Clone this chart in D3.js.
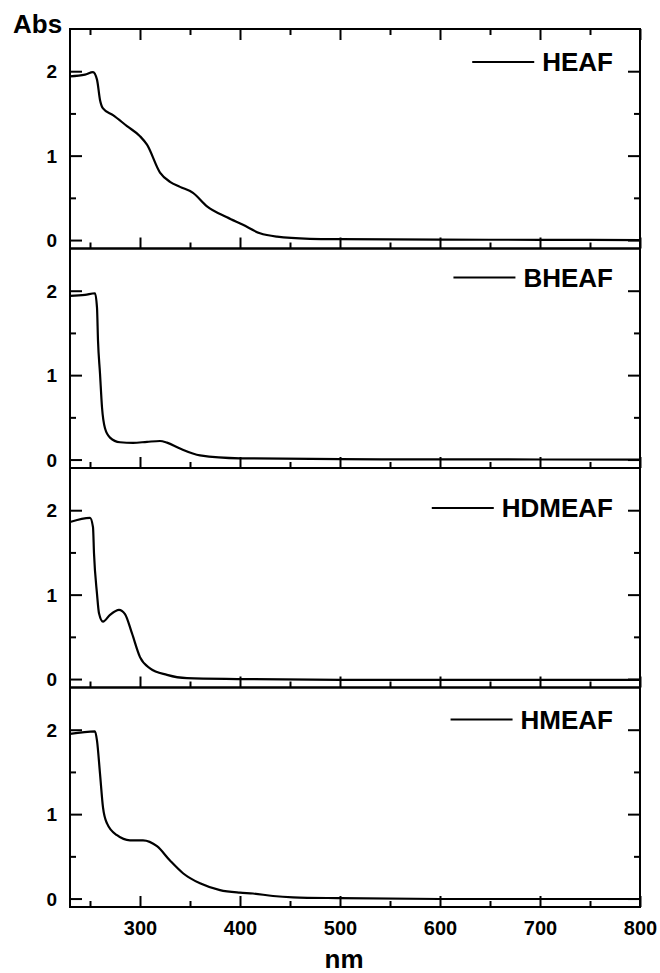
<!DOCTYPE html>
<html>
<head>
<meta charset="utf-8">
<script src="https://cdn.jsdelivr.net/npm/d3@7"></script>
<style>
  body { margin: 0; background: #fff; }
  text { font-family: "Liberation Sans", Arial, sans-serif; font-weight: bold; fill: #000; }
</style>
</head>
<body>
<div id="wrapper"></div>
<script>
// spectra (nm, Abs)
const heafNm  = [230, 245, 253, 257, 260, 263, 273, 287, 300, 307, 320, 330, 340, 353, 367, 387, 403, 420, 437, 470, 500, 600, 700, 800];
const heafAbs = [1.94, 1.96, 1.99, 1.90, 1.66, 1.56, 1.48, 1.35, 1.23, 1.13, 0.80, 0.69, 0.63, 0.56, 0.40, 0.27, 0.18, 0.08, 0.04, 0.015, 0.01, 0.005, 0.003, 0.0];

const bheafNm  = [230, 245, 255, 257, 258, 260, 262, 265, 270, 280, 293, 307, 320, 327, 340, 360, 400, 500, 600, 800];
const bheafAbs = [1.94, 1.95, 1.97, 1.80, 1.41, 1.02, 0.62, 0.37, 0.26, 0.205, 0.198, 0.21, 0.22, 0.20, 0.13, 0.05, 0.015, 0.005, 0.002, 0.0];

const hdmeafNm  = [230, 250, 253, 254, 257, 259, 263, 270, 279, 285, 292, 300, 310, 327, 347, 400, 500, 600, 800];
const hdmeafAbs = [1.86, 1.91, 1.80, 1.49, 1.01, 0.78, 0.68, 0.76, 0.82, 0.77, 0.54, 0.26, 0.126, 0.05, 0.01, 0.0, -0.01, -0.01, -0.01];

const hmeafNm  = [230, 255, 257, 260, 263, 267, 277, 290, 303, 317, 330, 343, 360, 380, 400, 413, 433, 453, 500, 600, 800];
const hmeafAbs = [1.95, 1.98, 1.87, 1.48, 1.08, 0.89, 0.75, 0.69, 0.69, 0.62, 0.45, 0.30, 0.18, 0.10, 0.07, 0.06, 0.03, 0.015, 0.005, -0.005, -0.005];

const seriesNames = ["HEAF", "BHEAF", "HDMEAF", "HMEAF"];
const seriesNm  = [heafNm, bheafNm, hdmeafNm, hmeafNm];
const seriesAbs = [heafAbs, bheafAbs, hdmeafAbs, hmeafAbs];

const xMajorTicks = [300, 400, 500, 600, 700, 800];
const xMinorTicks = [250, 350, 450, 550, 650, 750];
const yMajorTicks = [0, 1, 2];
const yMinorTicks = [0.5, 1.5];

// legend line offset from panel top (px)
const legendOffset = [33, 29, 40, 32];

let dimensions = {
  width: 660,
  height: 973,
  margin: { top: 29, right: 20, bottom: 66, left: 70 },
};
dimensions.boundedWidth = dimensions.width - dimensions.margin.left - dimensions.margin.right;
dimensions.boundedHeight = dimensions.height - dimensions.margin.top - dimensions.margin.bottom;
const panelHeight = dimensions.boundedHeight / seriesNames.length;
const legendRight = 613 - dimensions.margin.left;

const wrapper = d3.select("#wrapper")
  .append("svg")
    .attr("width", dimensions.width)
    .attr("height", dimensions.height);

const bounds = wrapper.append("g")
    .attr("transform", `translate(${dimensions.margin.left},${dimensions.margin.top})`);

const xScaler = d3.scaleLinear()
    .domain([230, 800])
    .range([0, dimensions.boundedWidth]);

seriesNames.forEach((name, i) => {
  const top = i * panelHeight;
  const panel = bounds.append("g")
      .attr("transform", `translate(0,${top})`);

  const yScaler = d3.scaleLinear()
      .domain([-0.1, 2.5])
      .range([panelHeight, 0]);

  const data = seriesNm[i].map((nm, j) => ({ nm: nm, abs: seriesAbs[i][j] }));

  const lineGenerator = d3.line()
      .x(d => xScaler(d.nm))
      .y(d => yScaler(d.abs))
      .curve(d3.curveMonotoneX);

  panel.append("path")
      .attr("d", lineGenerator(data))
      .attr("fill", "none")
      .attr("stroke", "#000")
      .attr("stroke-width", 2.2)
      .attr("stroke-linejoin", "round");

  // inward ticks
  const addAxis = (gen, tx, ty) => {
    const g = panel.append("g")
        .attr("transform", `translate(${tx},${ty})`)
        .call(gen);
    g.select(".domain").remove();
    g.selectAll(".tick line").attr("stroke", "#000").attr("stroke-width", 2);
    return g;
  };

  addAxis(d3.axisBottom(xScaler).tickValues(xMajorTicks).tickSize(-11).tickFormat(""), 0, panelHeight);
  addAxis(d3.axisBottom(xScaler).tickValues(xMinorTicks).tickSize(-6).tickFormat(""), 0, panelHeight);
  if (i === 0) {
    addAxis(d3.axisTop(xScaler).tickValues(xMajorTicks).tickSize(-11).tickFormat(""), 0, 0);
    addAxis(d3.axisTop(xScaler).tickValues(xMinorTicks).tickSize(-6).tickFormat(""), 0, 0);
  }
  const yLeft = addAxis(d3.axisLeft(yScaler).tickValues(yMajorTicks).tickSize(-12).tickFormat(d3.format("d")), 0, 0);
  yLeft.selectAll(".tick text")
      .attr("x", -13)
      .attr("text-anchor", "end")
      .attr("dy", "0.35em")
      .style("font-size", "19px")
      .style("font-family", "'Liberation Sans', Arial, sans-serif")
      .style("font-weight", "bold");
  addAxis(d3.axisLeft(yScaler).tickValues(yMinorTicks).tickSize(-6).tickFormat(""), 0, 0);
  addAxis(d3.axisRight(yScaler).tickValues(yMajorTicks).tickSize(-12).tickFormat(""), dimensions.boundedWidth, 0);
  addAxis(d3.axisRight(yScaler).tickValues(yMinorTicks).tickSize(-6).tickFormat(""), dimensions.boundedWidth, 0);

  panel.append("rect")
      .attr("width", dimensions.boundedWidth)
      .attr("height", panelHeight)
      .attr("fill", "none")
      .attr("stroke", "#000")
      .attr("stroke-width", 2);

  // legend
  const ly = legendOffset[i];
  const label = panel.append("text")
      .attr("x", legendRight)
      .attr("y", ly + 9)
      .attr("text-anchor", "end")
      .style("font-size", "26px")
      .text(name);
  const textStart = legendRight - label.node().getComputedTextLength();
  panel.append("line")
      .attr("x1", textStart - 70)
      .attr("x2", textStart - 8)
      .attr("y1", ly)
      .attr("y2", ly)
      .attr("stroke", "#000")
      .attr("stroke-width", 2);
});

// x tick labels under bottom panel
const xLabels = bounds.append("g")
    .attr("transform", `translate(0,${dimensions.boundedHeight})`)
    .call(d3.axisBottom(xScaler).tickValues(xMajorTicks).tickSize(0).tickPadding(0).tickFormat(d3.format("d")));
xLabels.select(".domain").remove();
xLabels.selectAll(".tick text")
    .attr("y", 28)
    .attr("dy", 0)
    .style("font-size", "20px")
    .style("font-family", "'Liberation Sans', Arial, sans-serif")
    .style("font-weight", "bold");

wrapper.append("text")
    .attr("x", 344)
    .attr("y", 968)
    .attr("text-anchor", "middle")
    .style("font-size", "26px")
    .text("nm");

wrapper.append("text")
    .attr("x", 13)
    .attr("y", 33)
    .style("font-size", "26px")
    .text("Abs");
</script>
</body>
</html>
